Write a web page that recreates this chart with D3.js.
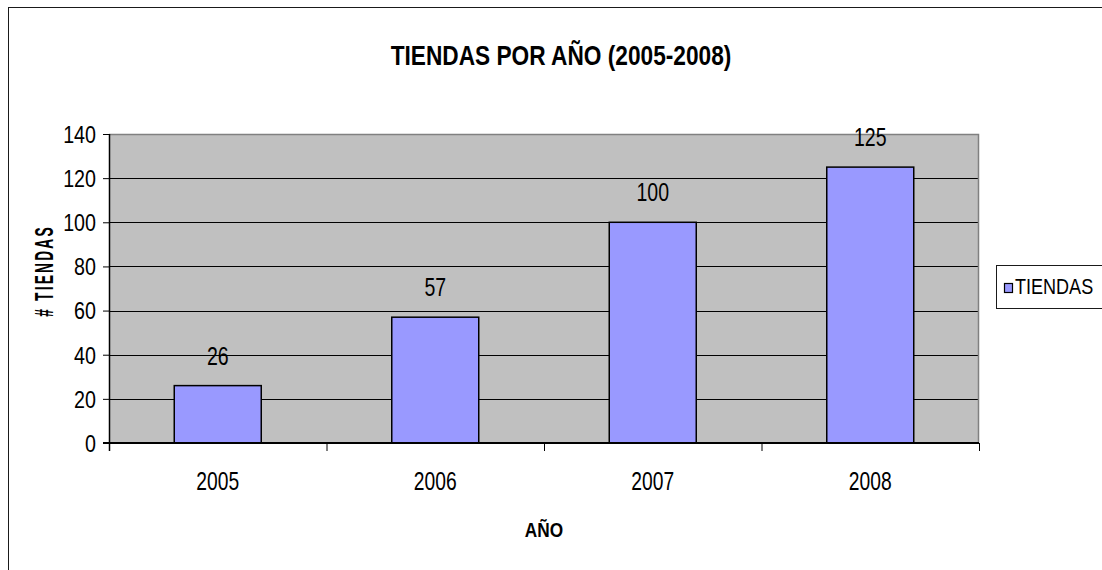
<!DOCTYPE html>
<html>
<head>
<meta charset="utf-8">
<script src="https://cdn.jsdelivr.net/npm/d3@7"></script>
<style>
  html, body { margin: 0; padding: 0; background: #ffffff; }
  svg { display: block; }
  text { font-family: "Liberation Sans", Arial, sans-serif; fill: #000; }
</style>
</head>
<body>
<svg id="chart" width="1102" height="570"></svg>
<script>
// Store counts per year
const years = ["2005", "2006", "2007", "2008"];
const tiendas = [26, 57, 100, 125];
const yTicks = [0, 20, 40, 60, 80, 100, 120, 140];
const seriesName = "TIENDAS";
const chartTitle = "TIENDAS POR AÑO (2005-2008)";
const xTitle = "AÑO";
const yTitle = "# TIENDAS";

const svg = d3.select("#chart");
const FONT = "'Liberation Sans', Arial, sans-serif";

// Narrow the text horizontally (condensed look)
function condense(sel, k = 0.82) {
  sel.each(function () {
    const w = this.getComputedTextLength();
    d3.select(this).attr("textLength", w * k).attr("lengthAdjust", "spacingAndGlyphs");
  });
}

// Plot area bounds
const plot = { left: 109, right: 979, top: 134, bottom: 443 };

// Outer chart frame
svg.append("rect")
  .attr("x", 8.5).attr("y", 7.5)
  .attr("width", 1120).attr("height", 600)
  .attr("fill", "#ffffff").attr("stroke", "#1a1a1a").attr("stroke-width", 1);

const x = d3.scaleBand()
  .domain(years)
  .range([plot.left, plot.right])
  .paddingInner(0.6)
  .paddingOuter(0.3);

const y = d3.scaleLinear()
  .domain([0, 140])
  .range([plot.bottom, plot.top]);

// Category boundaries for the tick marks
const bounds = d3.scaleLinear().domain([0, years.length]).range([plot.left, plot.right]);

// Plot background
svg.append("rect")
  .attr("x", plot.left).attr("y", plot.top)
  .attr("width", plot.right - plot.left).attr("height", plot.bottom - plot.top)
  .attr("fill", "#c0c0c0");

// Gridlines
svg.append("g")
  .selectAll("line")
  .data(yTicks.filter(d => d > 0 && d < 140))
  .join("line")
  .attr("x1", plot.left).attr("x2", plot.right)
  .attr("y1", d => Math.round(y(d)) + 0.5).attr("y2", d => Math.round(y(d)) + 0.5)
  .attr("stroke", "#000").attr("stroke-width", 1);

// Plot border (top and right)
svg.append("path")
  .attr("d", `M${plot.left},${plot.top + 0.5}H${plot.right - 0.5}V${plot.bottom}`)
  .attr("fill", "none").attr("stroke", "#808080").attr("stroke-width", 1.5);

const rows = years.map((yr, i) => ({ yr, v: tiendas[i] }));

// Bars
svg.append("g")
  .selectAll("rect")
  .data(rows)
  .join("rect")
  .attr("x", d => x(d.yr))
  .attr("y", d => y(d.v))
  .attr("width", x.bandwidth())
  .attr("height", d => y(0) - y(d.v))
  .attr("fill", "#9999ff")
  .attr("stroke", "#000")
  .attr("stroke-width", 1.5);

// Value labels
svg.append("g")
  .selectAll("text")
  .data(rows)
  .join("text")
  .attr("x", d => x(d.yr) + x.bandwidth() / 2)
  .attr("y", d => y(d.v) - 21)
  .attr("text-anchor", "middle")
  .attr("font-size", 26)
  .text(d => d.v)
  .call(condense, 0.75);

// Y axis
const yAxis = svg.append("g")
  .attr("transform", `translate(${plot.left},0)`)
  .call(d3.axisLeft(y).tickValues(yTicks).tickSize(6).tickPadding(7).tickSizeOuter(0));
yAxis.selectAll("text").attr("font-size", 24).attr("dy", "0.35em")
  .style("font-family", FONT).call(condense, 0.82);
yAxis.select(".domain").attr("stroke", "#000").attr("stroke-width", 1.5)
  .attr("d", `M0.5,${plot.top}V${plot.bottom + 8}`);
yAxis.selectAll(".tick line").attr("stroke", "#000");

// X axis: boundary ticks
const xTickAxis = svg.append("g")
  .attr("transform", `translate(0,${plot.bottom})`)
  .call(d3.axisBottom(bounds).tickValues(d3.range(years.length + 1)).tickFormat("").tickSize(8).tickSizeOuter(0));
xTickAxis.select(".domain").attr("stroke", "#000").attr("stroke-width", 2)
  .attr("d", `M${plot.left - 6},0H${plot.right}`);
xTickAxis.selectAll(".tick line").attr("stroke", "#000");

// X axis: category labels
const xAxis = svg.append("g")
  .attr("transform", `translate(0,${plot.bottom})`)
  .call(d3.axisBottom(x).tickSize(0).tickPadding(29));
xAxis.select(".domain").remove();
xAxis.selectAll("text").attr("font-size", 26)
  .style("font-family", FONT).call(condense, 0.74);

// Title
svg.append("text")
  .attr("x", 561).attr("y", 65)
  .attr("text-anchor", "middle")
  .attr("font-size", 28).attr("font-weight", "bold")
  .text(chartTitle)
  .call(condense, 0.81);

// X axis title
svg.append("text")
  .attr("x", (plot.left + plot.right) / 2).attr("y", 537)
  .attr("text-anchor", "middle")
  .attr("font-size", 21).attr("font-weight", "bold")
  .text(xTitle)
  .call(condense);

// Y axis title (spaced letters, squeezed along the text)
svg.append("text")
  .attr("transform", `translate(53,271) rotate(-90) scale(0.55,1)`)
  .attr("text-anchor", "middle")
  .attr("font-size", 25).attr("font-weight", "bold")
  .attr("letter-spacing", 4)
  .text(yTitle);

// Legend
const legend = svg.append("g");
legend.append("rect")
  .attr("x", 996.5).attr("y", 265.5)
  .attr("width", 140).attr("height", 43)
  .attr("fill", "#ffffff").attr("stroke", "#1a1a1a").attr("stroke-width", 1);
legend.append("rect")
  .attr("x", 1004.5).attr("y", 283.5)
  .attr("width", 8).attr("height", 9)
  .attr("fill", "#9999ff").attr("stroke", "#000").attr("stroke-width", 1.2);
legend.append("text")
  .attr("x", 1015).attr("y", 293.5)
  .attr("font-size", 22)
  .text(seriesName)
  .call(condense);
</script>
</body>
</html>
